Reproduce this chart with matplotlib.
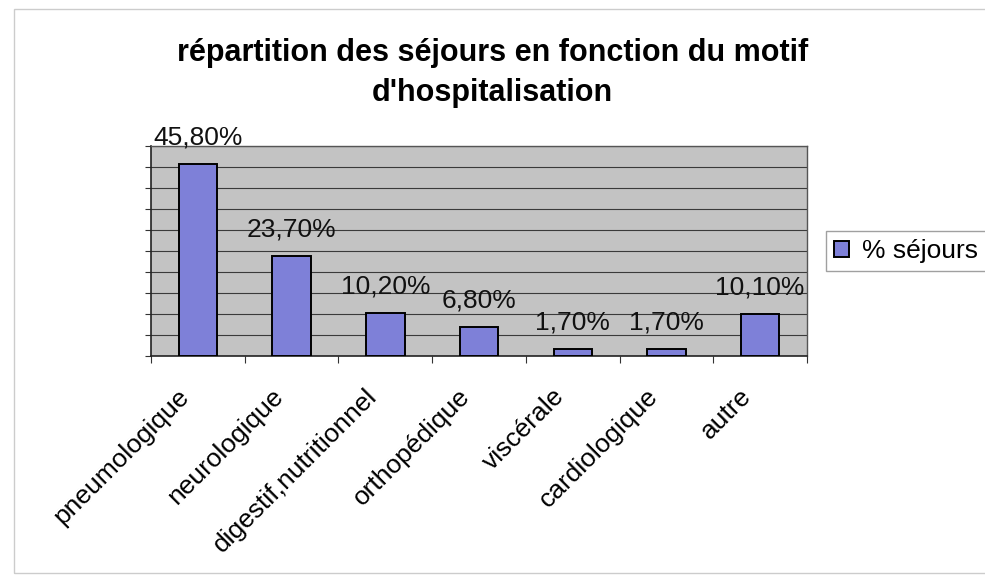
import matplotlib.pyplot as plt
import matplotlib.transforms as mtransforms
from matplotlib.patches import Rectangle
import numpy as np

# data
categories = ['pneumologique', 'neurologique', 'digestif,nutritionnel', 'orthopédique',
              'viscérale', 'cardiologique', 'autre']
sejours = [45.8, 23.7, 10.2, 6.8, 1.7, 1.7, 10.1]
labels = ['45,80%', '23,70%', '10,20%', '6,80%', '1,70%', '1,70%', '10,10%']

plt.rcParams['font.family'] = ['Liberation Sans', 'DejaVu Sans']

fig = plt.figure(figsize=(9.85, 5.76), dpi=100)
fig.patch.set_facecolor('white')

# faint chart-area border (open on the right, like the scan)
fig.patches.append(Rectangle((14 / 985, 3 / 576), 1.0, 564 / 576, transform=fig.transFigure,
                             fill=False, edgecolor='#cccccc', linewidth=1.0))

ax = fig.add_axes([0.1533, 0.382, 0.666, 0.3646])
ax.set_facecolor('#c3c3c3')

x = np.arange(len(categories))
bars = ax.bar(x, sejours, width=0.41, color='#7e80d8', edgecolor='black',
              linewidth=1.4, label='% séjours', zorder=3)

# value labels above the bars
for xi, v, lab in zip(x, sejours, labels):
    ax.annotate(lab, (xi, v), xytext=(0, 14), textcoords='offset points',
                ha='center', va='baseline', fontsize=19, color='#111111',
                annotation_clip=False, zorder=4)

ax.set_xlim(-0.5, len(categories) - 0.5)
ax.set_ylim(0, 50)
ax.set_yticks(np.arange(0, 51, 5))
ax.set_yticklabels([])
ax.yaxis.grid(True, color='#3a3a3a', linewidth=0.8, zorder=1)
ax.tick_params(axis='y', length=4, width=0.8, color='#333333')

ax.set_xticks(x)
ax.set_xticklabels(categories, rotation=45, ha='right', va='top',
                   rotation_mode='anchor', fontsize=19)
ax.set_xticks(np.arange(-0.5, len(categories), 1), minor=True)
ax.tick_params(axis='x', which='major', length=0, pad=8)
ax.tick_params(axis='x', which='minor', length=5, width=0.8, color='#333333')

# move rotated labels a bit left and down like the original
shift = mtransforms.ScaledTranslation(-21 / 100, -17 / 100, fig.dpi_scale_trans)
for lbl in ax.get_xticklabels():
    lbl.set_transform(lbl.get_transform() + shift)

for side in ['left', 'bottom']:
    ax.spines[side].set_color('#222222')
    ax.spines[side].set_linewidth(1.2)
for side in ['top', 'right']:
    ax.spines[side].set_color('#555555')
    ax.spines[side].set_linewidth(1.0)

fig.text(0.5, 1 - 38 / 576, "répartition des séjours en fonction du motif\nd'hospitalisation",
         ha='center', va='top', fontsize=22, fontweight='bold', linespacing=1.45)

leg = fig.legend(loc='center left', bbox_to_anchor=(0.839, 0.564), fontsize=19,
                 frameon=True, fancybox=False, handlelength=0.55, handleheight=0.55,
                 handletextpad=0.5, borderpad=0.3, borderaxespad=0)
leg.get_frame().set_edgecolor('#888888')
leg.get_frame().set_linewidth(1.0)

fig.savefig('out.png', dpi=100)
